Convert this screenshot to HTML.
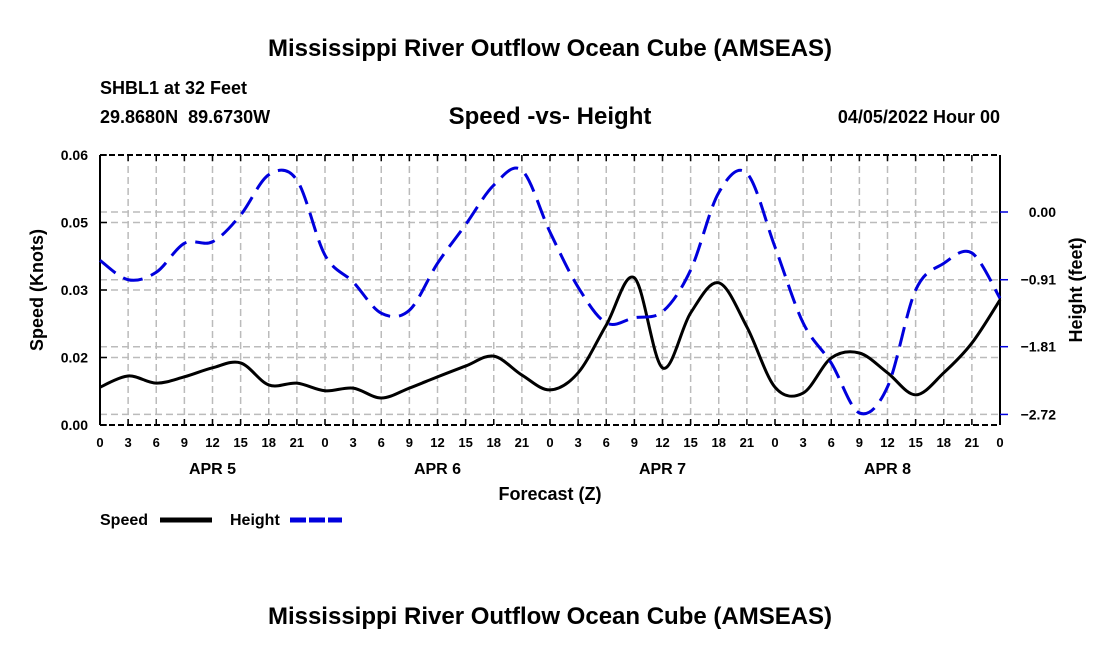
<!DOCTYPE html>
<html><head><meta charset="utf-8"><style>
body{margin:0;background:#fff}
svg text{font-family:"Liberation Sans",sans-serif;font-weight:bold;fill:#000}
</style></head><body>
<svg width="1100" height="650" viewBox="0 0 1100 650">
<text x="550" y="56" font-size="24" text-anchor="middle">Mississippi River Outflow Ocean Cube (AMSEAS)</text>
<text x="100" y="94" font-size="18">SHBL1 at 32 Feet</text>
<text x="100" y="123" font-size="18">29.8680N &#160;89.6730W</text>
<text x="550" y="124" font-size="24" text-anchor="middle">Speed -vs- Height</text>
<text x="1000" y="123" font-size="18" text-anchor="end">04/05/2022 Hour 00</text>
<g id="grid"></g>
<g id="axes"></g>
<g id="series"></g>
<text x="550" y="500" font-size="18" text-anchor="middle">Forecast (Z)</text>
<text transform="translate(43,290) rotate(-90)" font-size="18" text-anchor="middle">Speed (Knots)</text>
<text transform="translate(1082,290) rotate(-90)" font-size="18" text-anchor="middle">Height (feet)</text>
<g>
<text x="100" y="525" font-size="16">Speed</text>
<line x1="160" y1="520" x2="212" y2="520" stroke="#000" stroke-width="5"/>
<text x="230" y="525" font-size="16">Height</text>
<line x1="290" y1="520" x2="342" y2="520" stroke="#0000dd" stroke-width="5" stroke-dasharray="16,3"/>
</g>
<text x="550" y="624" font-size="24" text-anchor="middle">Mississippi River Outflow Ocean Cube (AMSEAS)</text>
</svg>
<script>
const hourLabels=["0","3","6","9","12","15","18","21"];
const dayLabels=["APR 5","APR 6","APR 7","APR 8"];
const speedTicks=[0,0.015,0.03,0.045,0.06];
const speedTickLabels=["0.00","0.02","0.03","0.05","0.06"];
const heightTicks=[-2.72,-1.81,-0.91,0.00];
const speed=[0.0084,0.0109,0.0093,0.0107,0.0127,0.0138,0.0089,0.0093,0.0076,0.0082,0.0060,0.0082,0.0107,0.0131,0.0153,0.0111,0.0078,0.0116,0.0222,0.0327,0.0127,0.0249,0.0316,0.0218,0.0084,0.0071,0.0149,0.0160,0.0116,0.0067,0.0116,0.0182,0.0278];
const height=[-0.65,-0.91,-0.81,-0.42,-0.40,-0.04,0.50,0.43,-0.58,-0.94,-1.36,-1.32,-0.69,-0.17,0.36,0.56,-0.27,-1.01,-1.49,-1.42,-1.34,-0.78,0.26,0.52,-0.47,-1.49,-2.03,-2.70,-2.35,-1.05,-0.69,-0.55,-1.16];

const NS="http://www.w3.org/2000/svg";
const L=100,R=1000,T=155,B=425;
const n=speed.length;
const xs=i=>L+(R-L)*i/(n-1);
const ySpeed=v=>B-(B-T)*v/0.06;
const hPx=67.5/0.907;
const yHeight=h=>212-h*hPx;
function mk(tag,attrs,parent){const e=document.createElementNS(NS,tag);for(const k in attrs)e.setAttribute(k,attrs[k]);parent.appendChild(e);return e;}
const grid=document.getElementById('grid'),axes=document.getElementById('axes'),series=document.getElementById('series');
for(let i=1;i<n-1;i++){const g=mk('line',{x1:xs(i),x2:xs(i),y1:T,y2:B,stroke:'#bbb','stroke-width':1.5,'stroke-dasharray':'7,4'},grid);

}
speedTicks.slice(1,-1).forEach(v=>{const g=mk('line',{x1:L,x2:R,y1:ySpeed(v),y2:ySpeed(v),stroke:'#bbb','stroke-width':1.5,'stroke-dasharray':'7,4'},grid);

});
heightTicks.forEach(v=>{const g=mk('line',{x1:L,x2:R,y1:yHeight(v),y2:yHeight(v),stroke:'#bbb','stroke-width':1.5,'stroke-dasharray':'7,4'},grid);

});
[[L,T,L,B],[R,T,R,B]].forEach(a=>{const e=mk('line',{x1:a[0],y1:a[1],x2:a[2],y2:a[3],stroke:'#000','stroke-width':2},axes);

});
[T,B].forEach(y=>{const e=mk('line',{x1:L,y1:y,x2:R,y2:y,stroke:'#000','stroke-width':2,'stroke-dasharray':'6,3'},axes);

});
for(let i=0;i<n;i++){
 const x=xs(i);
 mk('line',{x1:x,x2:x,y1:B,y2:B-6,stroke:'#000','stroke-width':1.5},axes);
 mk('line',{x1:x,x2:x,y1:T,y2:T+6,stroke:'#000','stroke-width':1.5},axes);
 const t=mk('text',{x:x,y:447,'font-size':13,'text-anchor':'middle'},axes);
 t.textContent=hourLabels[i%8];
 
 
}
dayLabels.forEach((d,k)=>{const t=mk('text',{x:xs(k*8+4),y:474,'font-size':16,'text-anchor':'middle'},axes);t.textContent=d;

});
speedTicks.forEach((v,k)=>{const y=ySpeed(v);mk('line',{x1:L,x2:L+7,y1:y,y2:y,stroke:'#000','stroke-width':1.5},axes);
const t=mk('text',{x:88,y:y+5,'font-size':14,'text-anchor':'end'},axes);t.textContent=speedTickLabels[k];

});
heightTicks.forEach(v=>{const y=yHeight(v);mk('line',{x1:R,x2:R+8,y1:y,y2:y,stroke:'#0000dd','stroke-width':1.5},axes);
const t=mk('text',{x:1056,y:y+5,'font-size':14,'text-anchor':'end'},axes);t.textContent=v.toFixed(2).replace('-','\u2212');

});
function smooth(pts){let d=`M${pts[0][0]},${pts[0][1]}`;for(let i=0;i<pts.length-1;i++){const p0=pts[Math.max(0,i-1)],p1=pts[i],p2=pts[i+1],p3=pts[Math.min(pts.length-1,i+2)];
d+=` C${p1[0]+(p2[0]-p0[0])/6},${p1[1]+(p2[1]-p0[1])/6} ${p2[0]-(p3[0]-p1[0])/6},${p2[1]-(p3[1]-p1[1])/6} ${p2[0]},${p2[1]}`;}return d;}
const sp=mk('path',{d:smooth(speed.map((v,i)=>[xs(i),ySpeed(v)])),fill:'none',stroke:'#000','stroke-width':3},series);


const hp=mk('path',{d:smooth(height.map((v,i)=>[xs(i),yHeight(v)])),fill:'none',stroke:'#0000dd','stroke-width':3,'stroke-dasharray':'20,9'},series);


</script>
</body></html>
